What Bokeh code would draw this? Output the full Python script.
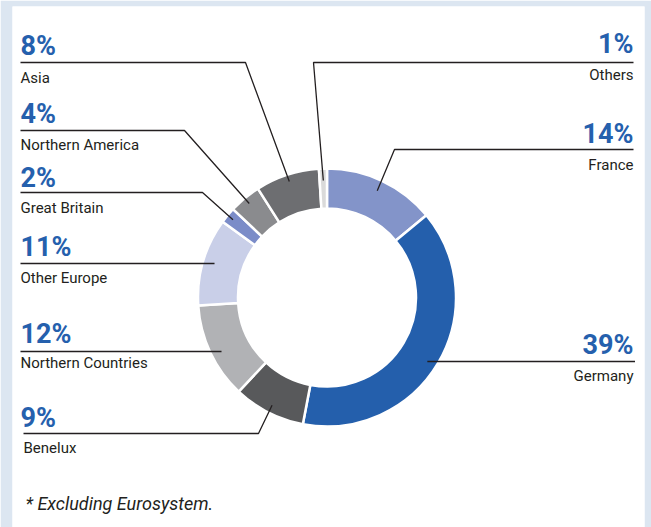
import math
from bokeh.plotting import figure
from bokeh.models import Range1d, ColumnDataSource
from bokeh.core.properties import value
from bokeh.embed import file_html
from bokeh.resources import INLINE

# ---- data (clockwise from 12 o'clock) ----
categories = ["France", "Germany", "Benelux", "Northern Countries", "Other Europe",
              "Great Britain", "Northern America", "Asia", "Others"]
shares = [14, 39, 9, 12, 11, 2, 4, 8, 1]
pct_labels = [f"{s}%" for s in shares]

# ---- styles ----
colors = ["#8394c9", "#245fac", "#58595b", "#b1b2b5", "#c9cfe8",
          "#7b8cc8", "#8a8b8e", "#6d6e71", "#dadada"]
BLUE = "#2560ad"
DARK = "#231f20"
FONT = "Roboto"
PCT_SIZE, NAME_SIZE, NOTE_SIZE = 27, 15, 18
FIX = 0.36  # baseline correction (fraction of font size)

# ---- layout (data units = pixels, origin at donut centre, y up) ----
R_IN, R_OUT = 89, 129
side = ["right", "right", "left", "left", "left", "left", "left", "left", "right"]
pct_y = [154, -57, -130, -46, 41, 110, 174, 242, 244]
line_y = [148, -64, -136, -54, 34, 105, 167, 235, 235]
name_y = [127, -84, -156, -71, 14, 84, 147, 214, 217]
elbow_x = [67.5, None, -68.5, None, None, -124.5, -142.5, -81.5, -13.5]
lead_r = [118, 119, 121, 118.5, 117.5, 122, 122, 122, 117]
text_x_left, text_x_right = -306.5, 306.5
line_x_left = [-306.5] * 9
line_x_left[2] = -303.5
name_x_left = [-306.5] * 9
name_x_left[2] = -303.5

total = float(sum(shares))
cum = [0.0]
for s in shares:
    cum.append(cum[-1] + s / total)
start_a = [math.pi / 2 - 2 * math.pi * cum[i + 1] for i in range(len(shares))]
end_a = [math.pi / 2 - 2 * math.pi * cum[i] for i in range(len(shares))]
mid_a = [math.pi / 2 - math.pi * (cum[i] + cum[i + 1]) for i in range(len(shares))]

p = figure(width=651, height=527, output_backend="svg", toolbar_location=None,
           x_range=Range1d(-314.5, 317.5), y_range=Range1d(-230, 291),
           x_axis_location=None, y_axis_location=None,
           min_border_left=12, min_border_right=7, min_border_top=6, min_border_bottom=0)
p.grid.visible = False
p.outline_line_color = None
p.background_fill_color = "white"
p.border_fill_color = "#dce6f1"

wsrc = ColumnDataSource(dict(start=start_a, end=end_a, color=colors, cat=categories))
p.annular_wedge(x=0, y=0, inner_radius=R_IN, outer_radius=R_OUT,
                start_angle="start", end_angle="end", fill_color="color",
                line_color="white", line_width=2.5, source=wsrc)

# leader lines
xs, ys = [], []
for i in range(len(shares)):
    r = lead_r[i]
    if elbow_x[i] is None:
        ey = line_y[i]
        ex = math.sqrt(max(r * r - ey * ey, 0)) * (1 if side[i] == "right" else -1)
        if side[i] == "left":
            xs.append([line_x_left[i], ex]); ys.append([line_y[i], ey])
        else:
            xs.append([ex, text_x_right + 1.5]); ys.append([ey, line_y[i]])
    else:
        ex, ey = r * math.cos(mid_a[i]), r * math.sin(mid_a[i])
        if side[i] == "left":
            xs.append([line_x_left[i], elbow_x[i], ex]); ys.append([line_y[i], line_y[i], ey])
        else:
            xs.append([ex, elbow_x[i], text_x_right]); ys.append([ey, line_y[i], line_y[i]])
p.multi_line(xs=xs, ys=ys, line_color=DARK, line_width=1.3)

# labels
tx = [text_x_right if s == "right" else text_x_left for s in side]
nx = [text_x_right if side[i] == "right" else name_x_left[i] for i in range(len(side))]
align = ["right" if s == "right" else "left" for s in side]
lsrc = ColumnDataSource(dict(tx=tx, nx=nx,
                             py=[y + FIX * PCT_SIZE for y in pct_y],
                             ny=[y + FIX * NAME_SIZE for y in name_y],
                             pct=pct_labels, name=categories, align=align))
p.text(x="tx", y="py", text="pct", text_align="align", text_baseline="alphabetic",
       text_font=value(FONT), text_font_style="bold", text_font_size=f"{PCT_SIZE}px",
       text_color=BLUE, source=lsrc)
p.text(x="nx", y="ny", text="name", text_align="align", text_baseline="alphabetic",
       text_font=value(FONT), text_font_size=f"{NAME_SIZE}px", text_color=DARK, source=lsrc)

p.text(x=[-301.5], y=[-212.5 + FIX * NOTE_SIZE], text=["* Excluding Eurosystem."],
       text_align="left", text_baseline="alphabetic", text_font=value(FONT),
       text_font_style="italic", text_font_size=f"{NOTE_SIZE}px", text_color=DARK)

open("out.html", "w").write(file_html(p, INLINE))
